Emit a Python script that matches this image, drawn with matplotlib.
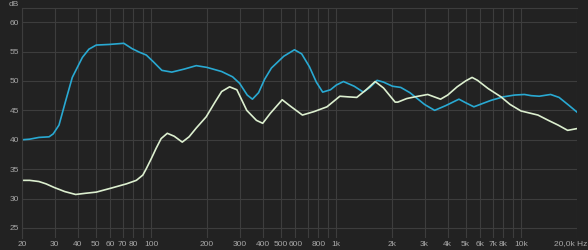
import numpy as np
import matplotlib.pyplot as plt

# blue response (Hz, dB)
blue_f = [20, 22, 24.7, 28, 29.5, 31.7, 34.5, 37.4, 42.4, 46, 50.4, 59, 71, 78.6, 86, 94,
          103, 114, 129, 150, 175, 200, 240, 275, 300, 330, 352, 380, 410, 446, 520, 594,
          650, 716, 780, 844, 930, 1000, 1093, 1250, 1399, 1520, 1662, 1800, 2012, 2230,
          2500, 2740, 3000, 3400, 3900, 4600, 5000, 5540, 6100, 6860, 8000, 9200, 10400,
          11300, 12500, 14400, 16000, 18000, 20000]
blue_db = [40.0, 40.1, 40.4, 40.5, 41.0, 42.5, 46.7, 50.6, 54.0, 55.4, 56.1, 56.2, 56.4, 55.5,
           54.9, 54.4, 53.2, 51.8, 51.5, 52.0, 52.6, 52.3, 51.6, 50.7, 49.6, 47.6, 46.9,
           48.0, 50.3, 52.2, 54.2, 55.3, 54.6, 52.4, 49.8, 48.1, 48.5, 49.3, 49.9, 49.1,
           48.1, 48.9, 50.1, 49.8, 49.1, 48.9, 48.0, 47.0, 46.0, 45.0, 45.8, 46.9, 46.3,
           45.6, 46.1, 46.7, 47.3, 47.6, 47.7, 47.5, 47.4, 47.7, 47.2, 45.9, 44.7]

# cream response (Hz, dB)
cream_f = [20, 22, 24.7, 27, 29.8, 34, 39, 44, 50.4, 61, 73.3, 83, 90, 94, 100, 106, 113,
           122, 133, 147, 160, 175, 198, 220, 240, 265, 290, 328, 370, 400, 440, 510, 560,
           656, 760, 890, 1045, 1150, 1290, 1450, 1622, 1800, 2080, 2150, 2400, 2660, 3120,
           3660, 4000, 4500, 5000, 5420, 5800, 6620, 7760, 8700, 9950, 12300, 14000, 15800,
           17800, 20000]
cream_db = [33.1, 33.1, 32.9, 32.5, 31.9, 31.2, 30.7, 30.9, 31.1, 31.8, 32.5, 33.1, 34.0,
            35.1, 36.8, 38.5, 40.2, 41.1, 40.6, 39.6, 40.5, 42.0, 43.9, 46.3, 48.2, 49.0,
            48.5, 45.0, 43.3, 42.8, 44.5, 46.8, 45.8, 44.2, 44.8, 45.6, 47.4, 47.3, 47.2,
            48.5, 49.9, 48.8, 46.4, 46.4, 47.0, 47.3, 47.7, 46.9, 47.6, 49.0, 50.0, 50.6,
            50.1, 48.7, 47.3, 46.0, 44.9, 44.2, 43.3, 42.5, 41.6, 41.9]

x_ticks = [20, 30, 40, 50, 60, 70, 80, 100, 200, 300, 400, 500, 600, 800, 1000,
           2000, 3000, 4000, 5000, 6000, 7000, 8000, 10000, 20000]
x_labels = ['20', '30', '40', '50', '60', '70', '80', '100', '200', '300', '400', '500',
            '600', '800', '1k', '2k', '3k', '4k', '5k', '6k', '7k', '8k', '10k', '20,0k Hz']
x_minor = [90, 700, 900, 9000]
y_ticks = [25, 30, 35, 40, 45, 50, 55, 60]

bg = '#222222'
grid_c = '#3d3d3d'
txt_c = '#a8a8a8'
plt.rcParams['font.family'] = ['Liberation Sans', 'DejaVu Sans']

fig = plt.figure(figsize=(5.88, 2.5), dpi=100, facecolor=bg)
ax = fig.add_axes([22 / 588, 12 / 250, 555 / 588, 230 / 250])
ax.set_facecolor(bg)

ax.plot(blue_f, blue_db, color='#29a9d2', lw=1.2, solid_joinstyle='round')
ax.plot(cream_f, cream_db, color='#dcefcf', lw=1.2, solid_joinstyle='round')

ax.set_xscale('log')
ax.set_xlim(20, 20000)
ax.set_ylim(23.3, 62.4)
ax.set_xticks(x_ticks)
# last label sits against the right edge, drawn separately below
ax.set_xticklabels(x_labels[:-1] + [''])
ax.set_xticks(x_minor, minor=True)
ax.set_xticklabels([], minor=True)
ax.set_yticks(y_ticks)
ax.grid(which='both', color=grid_c, lw=0.8)
ax.set_axisbelow(True)
ax.tick_params(which='both', length=0, colors=txt_c, labelsize=6, pad=2)
for s in ax.spines.values():
    s.set_color(grid_c)
    s.set_linewidth(0.8)
ax.spines['bottom'].set_visible(False)
ax.spines['right'].set_visible(False)

fig.text(587 / 588, 1 - 244 / 250, x_labels[-1], color=txt_c, fontsize=6, ha='right', va='center')
fig.text(19 / 588, 1 - 4 / 250, 'dB', color=txt_c, fontsize=6, ha='right', va='center')

fig.savefig('out.png', dpi=100, facecolor=bg)
